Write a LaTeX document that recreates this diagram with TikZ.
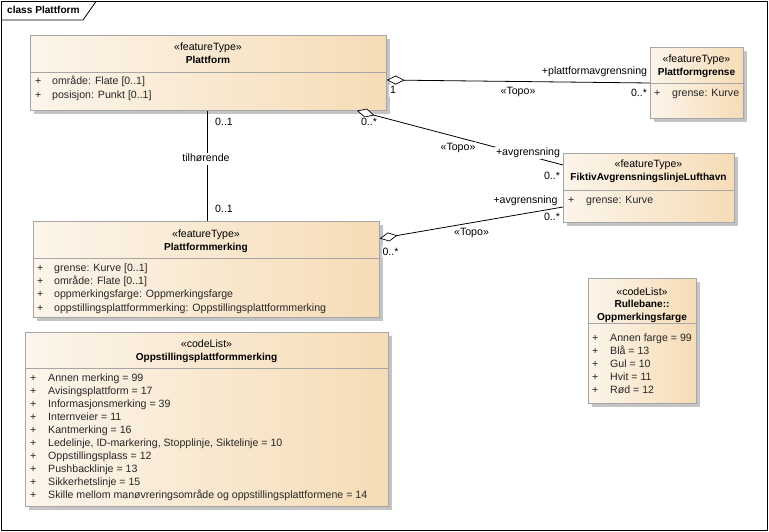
\documentclass[tikz,border=0pt]{standalone}
\usepackage{fontspec}
\setmainfont{Liberation Sans}
\usetikzlibrary{arrows.meta,shadows,calc}
\definecolor{boxleft}{HTML}{FCF5EB}
\definecolor{boxright}{HTML}{F6DCB6}
\definecolor{boxborder}{HTML}{A6A6A6}
\definecolor{shadowgray}{HTML}{C4C4C4}
\newcommand\ftreg{\fontsize{10.6}{12}\selectfont}
\newcommand\ftbold{\fontsize{10.1}{12}\selectfont\bfseries}
\begin{document}
\begin{tikzpicture}[x=1pt,y=-1pt,
  classbox/.style={draw=boxborder, line width=0.7pt, left color=boxleft, right color=boxright,
    anchor=north west, inner sep=0pt,
    drop shadow={shadow xshift=3.5pt, shadow yshift=-3.5pt, fill=shadowgray, opacity=1}},
  divider/.style={draw=boxborder, line width=0.7pt},
  txt/.style={inner sep=0pt, text height=8pt, text depth=2pt},
  stereo/.style={txt, font=\ftreg},
  cname/.style={txt, font=\ftbold},
  attr/.style={txt, font=\ftreg, anchor=west, text=black!85},
  lbl/.style={font=\ftreg, inner sep=1pt, text height=8pt, text depth=2pt, fill=white},
  conn/.style={draw=black, line width=0.8pt},
  agg/.style={conn, {Diamond[fill=white, length=18pt, width=9pt, line width=0.7pt]}-},
]
\useasboundingbox (0,0) rectangle (769,532);
% frame
\draw[line width=0.8pt] (1.5,1.5) rectangle (767,530.5);
\draw[line width=0.8pt] (1.5,20) -- (83,20) -- (96,1.5);
\node[cname, anchor=west] (title) at (7,11) {class Plattform};

% Plattform
\node[classbox, minimum width=356pt, minimum height=75pt] (plattform) at (30,35) {};
\draw[divider] (30,72) -- (386,72);
\node[stereo] (s1) at (208,48) {«featureType»};
\node[cname] (n1) at (208,61) {Plattform};
\node[attr] (p1a) at (35,82) {+};
\node[attr] (p1b) at (52,82) {område: Flate [0..1]};
\node[attr] (p2a) at (35,96) {+};
\node[attr] (p2b) at (52,96) {posisjon: Punkt [0..1]};

% Plattformgrense
\node[classbox, minimum width=93pt, minimum height=71pt] (pgrense) at (650,47) {};
\draw[divider] (650,83) -- (743,83);
\node[stereo] (s2) at (696.5,60) {«featureType»};
\node[cname] (n2) at (696.5,72.5) {Plattformgrense};
\node[attr] (g1a) at (654,94) {+};
\node[attr] (g1b) at (672,94) {grense: Kurve};

% FiktivAvgrensningslinjeLufthavn
\node[classbox, minimum width=171pt, minimum height=69pt] (fiktiv) at (563,153) {};
\draw[divider] (563,190) -- (734,190);
\node[stereo] (s3) at (648.5,165) {«featureType»};
\node[cname] (n3) at (648.5,178) {FiktivAvgrensningslinjeLufthavn};
\node[attr] (f1a) at (568,201) {+};
\node[attr] (f1b) at (586,201) {grense: Kurve};

% Plattformmerking
\node[classbox, minimum width=346pt, minimum height=96pt] (merk) at (33,221) {};
\draw[divider] (33,258) -- (379,258);
\node[stereo] (s4) at (206,234) {«featureType»};
\node[cname] (n4) at (206,247) {Plattformmerking};
\foreach \t [count=\i from 0] in {grense: Kurve [0..1], område: Flate [0..1], oppmerkingsfarge: Oppmerkingsfarge, oppstillingsplattformmerking: Oppstillingsplattformmerking}{
  \node[attr] (m\i a) at (37,268+13.4*\i) {+};
  \node[attr] (m\i b) at (54,268+13.4*\i) {\t};
}

% Oppstillingsplattformmerking
\node[classbox, minimum width=363pt, minimum height=174pt] (oppst) at (25,332) {};
\draw[divider] (25,368) -- (388,368);
\node[stereo] (s5) at (206.5,344) {«codeList»};
\node[cname] (n5) at (206.5,357) {Oppstillingsplattformmerking};
\foreach \t [count=\i from 0] in {Annen merking = 99, Avisingsplattform = 17, Informasjonsmerking = 39, Internveier = 11, Kantmerking = 16, {Ledelinje, ID-markering, Stopplinje, Siktelinje = 10}, Oppstillingsplass = 12, Pushbacklinje = 13, Sikkerhetslinje = 15, Skille mellom manøvreringsområde og oppstillingsplattformene = 14}{
  \node[attr] (o\i a) at (30,378+13.1*\i) {+};
  \node[attr] (o\i b) at (48,378+13.1*\i) {\t};
}

% Oppmerkingsfarge
\node[classbox, minimum width=108pt, minimum height=125pt] (farge) at (588,278) {};
\draw[divider] (588,323) -- (696,323);
\node[stereo] (s6) at (642,292.5) {«codeList»};
\node[cname] (n6a) at (642,304.5) {Rullebane::};
\node[cname] (n6b) at (642,317) {Oppmerkingsfarge};
\foreach \t [count=\i from 0] in {Annen farge = 99, Blå = 13, Gul = 10, Hvit = 11, Rød = 12}{
  \node[attr] (c\i a) at (592,338+13*\i) {+};
  \node[attr] (c\i b) at (610,338+13*\i) {\t};
}

% connectors
\draw[agg] ($(plattform.north east)+(0,45)$) -- ($(pgrense.north west)+(0,36)$);
\draw[agg] ($(plattform.south west)+(327,0)$) -- ($(fiktiv.north west)+(0,12)$);
\draw[conn] ($(plattform.south west)+(177,0)$) -- ($(merk.north west)+(174,0)$);
\draw[agg] ($(merk.north east)+(0,17.5)$) -- ($(fiktiv.north west)+(0,54)$);

% connector labels
\node[lbl] (l1a) at (594.5,72) {+plattformavgrensning};
\node[lbl] (l1b) at (518,92) {«Topo»};
\node[lbl] (l1c) at (393,91) {1};
\node[lbl] (l1d) at (639,94) {0..*};

\node[lbl] (l2a) at (369,123) {0..*};
\node[lbl] (l2b) at (458,148) {«Topo»};
\node[lbl] (l2c) at (528,153) {+avgrensning};
\node[lbl] (l2d) at (552,177) {0..*};

\node[lbl] (l3a) at (224,123) {0..1};
\node[lbl] (l3b) at (206,159) {tilhørende};
\node[lbl] (l3c) at (224,209) {0..1};

\node[lbl] (l4a) at (525.5,201) {+avgrensning};
\node[lbl] (l4b) at (552,217) {0..*};
\node[lbl] (l4c) at (471.5,233) {«Topo»};
\node[lbl] (l4d) at (390.5,252) {0..*};
\end{tikzpicture}
\end{document}
